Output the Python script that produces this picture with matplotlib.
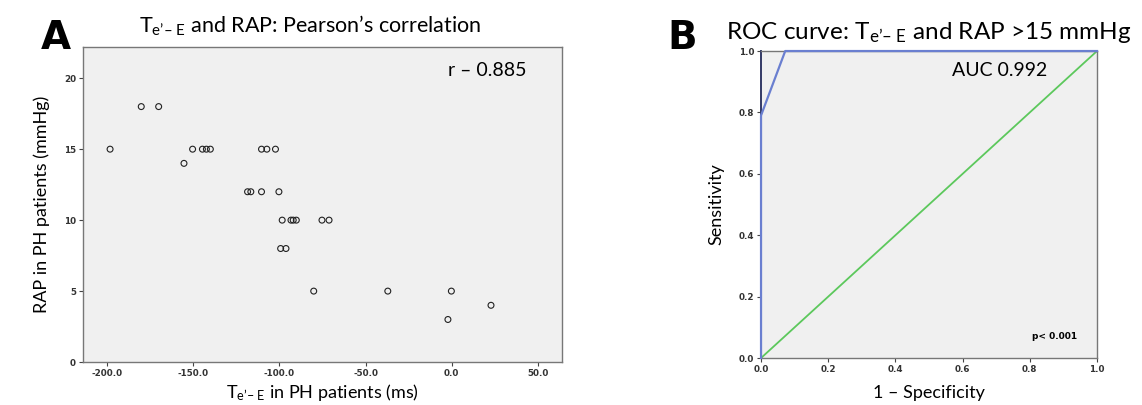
import matplotlib
matplotlib.use("Agg")
import matplotlib.pyplot as plt

plt.rcParams["font.family"] = ["Lato", "DejaVu Sans"]
plt.rcParams["mathtext.fontset"] = "custom"
plt.rcParams["mathtext.rm"] = "Lato"
plt.rcParams["mathtext.it"] = "Lato:italic"

# Panel A: Te'-E (ms) vs RAP (mmHg)
te_ms = [-198.3, -180.2, -170.1, -155.4, -150.4, -144.7, -142.4, -140.1,
         -110.4, -107.3, -102.3, -118.5, -116.6, -110.4, -100.3,
         -98.4, -93.3, -92.0, -90.2, -75.3, -71.2, -99.3, -96.2,
         -80.1, -37.1, -0.2, -2.2, 22.8]
rap = [15, 18, 18, 14, 15, 15, 15, 15,
       15, 15, 15, 12, 12, 12, 12,
       10, 10, 10, 10, 10, 10, 8, 8,
       5, 5, 5, 3, 4]
a_xticks = [-200, -150, -100, -50, 0, 50]
a_yticks = [0, 5, 10, 15, 20]

# Panel B: ROC curve
fpr = [0.0, 0.0, 0.072, 1.0]
tpr = [0.0, 0.79, 1.0, 1.0]
ref_line = [0.0, 1.0]
b_ticks = [0.0, 0.2, 0.4, 0.6, 0.8, 1.0]

BG = "#f0f0f0"
SPINE = "#777777"
BLUE = "#6a7fd0"
GREEN = "#5cc85c"
SUB = r"$_{\mathrm{e’–\ E}}$"


def style(ax):
    ax.set_facecolor(BG)
    for s in ax.spines.values():
        s.set_color(SPINE)
        s.set_linewidth(1.0)
    ax.tick_params(direction="out", length=3, width=0.8, color="#444444",
                   pad=2, top=False, right=False)
    for lab in ax.get_xticklabels() + ax.get_yticklabels():
        lab.set_fontfamily("DejaVu Sans")
        lab.set_fontweight("bold")
        lab.set_fontsize(6.3)
        lab.set_color("#333333")


fig = plt.figure(figsize=(11.42, 4.05), dpi=100)
fig.patch.set_facecolor("white")

# ---- A
axa = fig.add_axes([0.0727, 0.106, 0.4194, 0.778])
axa.scatter(te_ms, rap, s=18, facecolors="none", edgecolors="#222222",
            linewidths=0.8, zorder=3)
axa.set_xlim(-214, 64)
axa.set_ylim(0, 22.2)
axa.set_xticks(a_xticks)
axa.set_xticklabels([f"{v:.1f}" for v in a_xticks])
axa.set_yticks(a_yticks)
axa.set_yticklabels([str(v) for v in a_yticks])
style(axa)
axa.set_xlabel("T" + SUB + " in PH patients (ms)", fontsize=13, labelpad=3)
axa.set_ylabel("RAP in PH patients (mmHg)", fontsize=13, labelpad=10)
axa.set_title("T" + SUB + " and RAP: Pearson’s correlation", fontsize=15.5,
              pad=10, x=0.475)
axa.text(0.925, 0.925, "r – 0.885", transform=axa.transAxes, ha="right",
         va="center", fontsize=14)
fig.text(0.036, 0.905, "A", fontsize=28, fontweight="heavy",
         family="DejaVu Sans", va="center")

# ---- B
axb = fig.add_axes([0.6664, 0.116, 0.2942, 0.758])
axb.plot(ref_line, ref_line, color=GREEN, lw=1.3, zorder=2)
axb.plot(fpr, tpr, color=BLUE, lw=1.6, zorder=3, clip_on=False)
axb.set_xlim(0, 1)
axb.set_ylim(0, 1)
axb.set_xticks(b_ticks)
axb.set_yticks(b_ticks)
axb.set_xticklabels([f"{v:.1f}" for v in b_ticks])
axb.set_yticklabels([f"{v:.1f}" for v in b_ticks])
style(axb)
axb.spines["left"].set_color("#333a66")
axb.spines["left"].set_linewidth(1.4)
axb.set_xlabel("1 – Specificity", fontsize=13, labelpad=8)
axb.set_ylabel("Sensitivity", fontsize=13, labelpad=10)
axb.set_title("ROC curve: T" + SUB + " and RAP >15 mmHg", fontsize=17.5,
              pad=9)
axb.text(0.851, 0.935, "AUC 0.992", transform=axb.transAxes, ha="right",
         va="center", fontsize=14)
axb.text(0.94, 0.07, "p< 0.001", transform=axb.transAxes, ha="right",
         va="center", fontsize=6.5, fontweight="bold", family="DejaVu Sans")
fig.text(0.584, 0.905, "B", fontsize=28, fontweight="heavy",
         family="DejaVu Sans", va="center")

fig.savefig("out.png", dpi=100)
